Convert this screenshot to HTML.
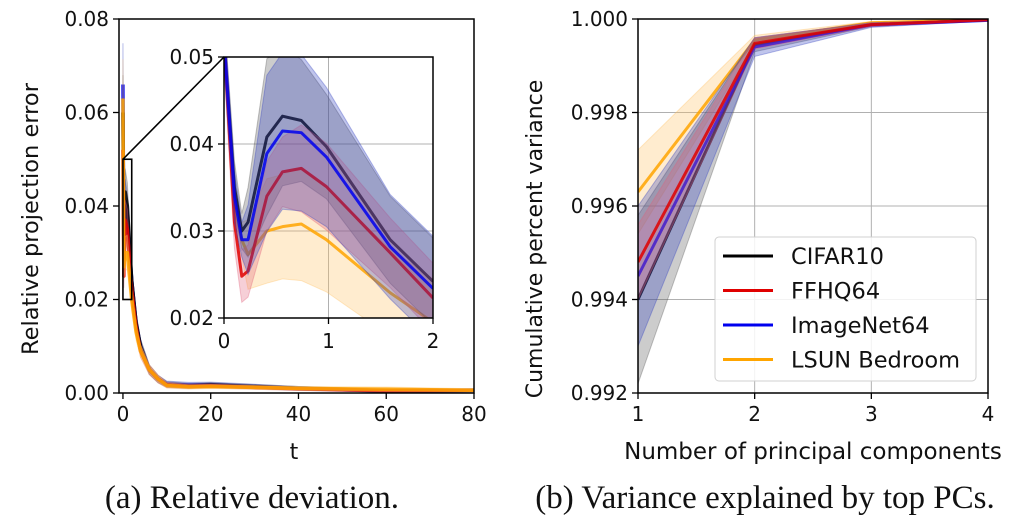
<!DOCTYPE html>
<html><head><meta charset="utf-8"><style>
body{margin:0;background:#fff;width:1032px;height:528px;overflow:hidden}
svg{display:block}
text{font-family:"DejaVu Sans","Liberation Sans",sans-serif;fill:#111}
.cap{font-family:"Liberation Serif",serif;font-size:33px}
</style></head><body>
<svg id="fig" width="1032" height="528" viewBox="0 0 1032 528" xmlns="http://www.w3.org/2000/svg"></svg>
<script>
// ---------- data ----------
const seriesNames = ["CIFAR10","FFHQ64","ImageNet64","LSUN Bedroom"];
const seriesColors = ["#000000","#e00000","#0000ee","#ffa500"];
const bandColors = ["#555555","#e0607a","#3040c0","#ffc060"];
// main left plot
const mainT = [0,0.2,0.5,1,2,3,4,6,8,10,15,20,40,60,80];
const mainCifar = [0.060,0.030,0.043,0.040,0.024,0.015,0.010,0.005,0.003,0.0018,0.0015,0.0017,0.0010,0.0005,0.0006];
const mainFfhq = [0.052,0.025,0.037,0.035,0.022,0.014,0.009,0.005,0.003,0.0017,0.0014,0.0015,0.0009,0.0005,0.0006];
const mainImnet = [0.066,0.029,0.041,0.038,0.024,0.015,0.010,0.005,0.003,0.0019,0.0017,0.0018,0.0010,0.0004,0.0006];
const mainLsun = [0.063,0.027,0.030,0.030,0.020,0.013,0.009,0.005,0.003,0.0016,0.0013,0.0014,0.0010,0.0008,0.0006];
const mainStd = [0.008,0.003,0.005,0.005,0.003,0.002,0.0015,0.001,0.0008,0.0006,0.0005,0.0005,0.0004,0.0003,0.0003];
// inset
const insetT = [0,0.1,0.17,0.23,0.41,0.56,0.74,0.98,1.59,2];
const insetCifar = [0.052,0.035,0.030,0.031,0.0408,0.0432,0.0427,0.0397,0.029,0.0242];
const insetFfhq = [0.052,0.031,0.0248,0.0254,0.034,0.0368,0.0372,0.0351,0.0275,0.0223];
const insetImnet = [0.052,0.034,0.029,0.029,0.0389,0.0415,0.0413,0.0385,0.0282,0.0234];
const insetLsun = [0.052,0.033,0.029,0.0273,0.030,0.0305,0.0308,0.029,0.0229,0.0195];
const insetStdCifar = [0.003,0.003,0.002,0.004,0.009,0.008,0.007,0.006,0.005,0.005];
const insetStdFfhq = [0.003,0.003,0.003,0.003,0.004,0.004,0.005,0.005,0.004,0.004];
const insetStdImnet = [0.003,0.003,0.002,0.004,0.009,0.009,0.009,0.008,0.006,0.006];
const insetStdLsun = [0.003,0.003,0.002,0.004,0.006,0.006,0.0065,0.006,0.005,0.005];
// right plot
const pcX = [1,2,3,4];
const pcCifar = [0.9940,0.99945,0.99988,0.99998];
const pcFfhq = [0.9948,0.99948,0.99988,0.99998];
const pcImnet = [0.9945,0.99940,0.99987,0.99997];
const pcLsun = [0.9963,0.99955,0.99992,0.99999];
const pcStdCifar = [0.0018,0.00015,0.00004,0.00001];
const pcStdFfhq = [0.0008,0.00012,0.00004,0.00001];
const pcStdImnet = [0.0015,0.00020,0.00005,0.00001];
const pcStdLsun = [0.0009,0.00010,0.00003,0.00001];
const leftXTicks = [0,20,40,60,80];
const leftYTicks = [0,0.02,0.04,0.06,0.08];
const insetXTicks = [0,1,2];
const insetYTicks = [0.02,0.03,0.04,0.05];
const rightXTicks = [1,2,3,4];
const rightYTicks = [0.992,0.994,0.996,0.998,1.000];

const NS="http://www.w3.org/2000/svg";
const svg=document.getElementById('fig');
function el(tag,attrs,parent){const e=document.createElementNS(NS,tag);for(const k in attrs)e.setAttribute(k,attrs[k]);(parent||svg).appendChild(e);return e;}
function lin(d0,d1,r0,r1){return v=>r0+(v-d0)/(d1-d0)*(r1-r0);}

function drawSeries(g,xs,ys,sd,sx,sy,i,lw){
  let up=xs.map((x,k)=>sx(x)+','+sy(ys[k]+sd[k]));
  let dn=xs.map((x,k)=>sx(x)+','+sy(ys[k]-sd[k])).reverse();
  const band=el('polygon',{points:up.concat(dn).join(' '),fill:bandColors[i],'fill-opacity':0.3,stroke:bandColors[i],'stroke-opacity':0.35},g);
  
  
  const line=el('polyline',{points:xs.map((x,k)=>sx(x)+','+sy(ys[k])).join(' '),fill:'none',stroke:seriesColors[i],'stroke-width':lw,'stroke-opacity':0.85,'stroke-linejoin':'round'},g);
  
  
}

// ---------- left plot ----------
const L={x0:119,x1:474,y0:19,y1:393};
const lx=lin(-0.9,80,L.x0,L.x1), ly=lin(0,0.08,L.y1,L.y0);
const gL=el('g',{});


const defs=el('defs',{});
el('rect',{x:L.x0,y:L.y0,width:L.x1-L.x0,height:L.y1-L.y0},el('clipPath',{id:'cl'},defs));
const gLc=el('g',{'clip-path':'url(#cl)'},gL);
const mains=[mainCifar,mainFfhq,mainImnet,mainLsun];
[2,0,1,3].forEach(i=>drawSeries(gLc,mainT,mains[i],mainT.map((t,k)=>mainStd[k]*mains[i][k]/mainCifar[k]),lx,ly,i,3.5));
el('rect',{x:L.x0,y:L.y0,width:L.x1-L.x0,height:L.y1-L.y0,fill:'none',stroke:'#000','stroke-width':1.5},gL);
leftXTicks.forEach(v=>{el('line',{x1:lx(v),x2:lx(v),y1:L.y1,y2:L.y1+6,stroke:'#000','stroke-width':1.3},gL);
  const t=el('text',{x:lx(v),y:L.y1+28,'text-anchor':'middle','font-size':20},gL);t.textContent=v;
  });
leftYTicks.forEach(v=>{el('line',{x1:L.x0-6,x2:L.x0,y1:ly(v),y2:ly(v),stroke:'#000','stroke-width':1.3},gL);
  const t=el('text',{x:L.x0-10,y:ly(v)+7,'text-anchor':'end','font-size':20},gL);t.textContent=v.toFixed(2);
  });
let t1=el('text',{x:294,y:459,'text-anchor':'middle','font-size':22},gL);t1.textContent='t';

let t2=el('text',{x:0,y:0,'text-anchor':'middle','font-size':22.5,transform:'translate(38,219) rotate(-90)'},gL);t2.textContent='Relative projection error';

// zoom indicator
const zr=el('rect',{x:lx(0),y:ly(0.05),width:lx(2)-lx(0),height:ly(0.02)-ly(0.05),fill:'none',stroke:'#000','stroke-width':1.6},gL);

// inset
const I={x0:224,x1:433,y0:57,y1:318};
el('line',{x1:lx(0),y1:ly(0.05),x2:I.x0,y2:I.y0,stroke:'#000','stroke-width':1.6},gL);
const ix=lin(0,2,I.x0,I.x1), iy=lin(0.02,0.05,I.y1,I.y0);
const gI=el('g',{},gL);

el('rect',{x:I.x0,y:I.y0,width:I.x1-I.x0,height:I.y1-I.y0,fill:'#fff'},gI);
el('rect',{x:I.x0,y:I.y0,width:I.x1-I.x0,height:I.y1-I.y0},el('clipPath',{id:'ci'},defs));
insetXTicks.forEach(v=>el('line',{x1:ix(v),x2:ix(v),y1:I.y0,y2:I.y1,stroke:'#b0b0b0','stroke-width':1},gI));
insetYTicks.forEach(v=>el('line',{x1:I.x0,x2:I.x1,y1:iy(v),y2:iy(v),stroke:'#b0b0b0','stroke-width':1},gI));
const gIc=el('g',{'clip-path':'url(#ci)'},gI);
const ins=[insetCifar,insetFfhq,insetImnet,insetLsun], isd=[insetStdCifar,insetStdFfhq,insetStdImnet,insetStdLsun];
[3,0,1,2].forEach(i=>drawSeries(gIc,insetT,ins[i],isd[i],ix,iy,i,3));
el('rect',{x:I.x0,y:I.y0,width:I.x1-I.x0,height:I.y1-I.y0,fill:'none',stroke:'#000','stroke-width':1.5},gI);
insetXTicks.forEach(v=>{el('line',{x1:ix(v),x2:ix(v),y1:I.y1,y2:I.y1+6,stroke:'#000','stroke-width':1.3},gI);
  const t=el('text',{x:ix(v),y:I.y1+30,'text-anchor':'middle','font-size':20},gI);t.textContent=v;
  });
insetYTicks.forEach(v=>{el('line',{x1:I.x0-6,x2:I.x0,y1:iy(v),y2:iy(v),stroke:'#000','stroke-width':1.3},gI);
  const t=el('text',{x:I.x0-10,y:iy(v)+7,'text-anchor':'end','font-size':20},gI);t.textContent=v.toFixed(2);
  });

// ---------- right plot ----------
const R={x0:638,x1:988,y0:19,y1:393};
const rx=lin(1,4,R.x0,R.x1), ry=lin(0.992,1.0,R.y1,R.y0);
const gR=el('g',{});

el('rect',{x:R.x0,y:R.y0,width:R.x1-R.x0,height:R.y1-R.y0},el('clipPath',{id:'cr'},defs));
rightXTicks.forEach(v=>el('line',{x1:rx(v),x2:rx(v),y1:R.y0,y2:R.y1,stroke:'#b0b0b0','stroke-width':1},gR));
rightYTicks.forEach(v=>el('line',{x1:R.x0,x2:R.x1,y1:ry(v),y2:ry(v),stroke:'#b0b0b0','stroke-width':1},gR));
const gRc=el('g',{'clip-path':'url(#cr)'},gR);
const pcs=[pcCifar,pcFfhq,pcImnet,pcLsun], psd=[pcStdCifar,pcStdFfhq,pcStdImnet,pcStdLsun];
[3,0,2,1].forEach(i=>drawSeries(gRc,pcX,pcs[i],psd[i],rx,ry,i,3));
el('rect',{x:R.x0,y:R.y0,width:R.x1-R.x0,height:R.y1-R.y0,fill:'none',stroke:'#000','stroke-width':1.5},gR);
rightXTicks.forEach(v=>{el('line',{x1:rx(v),x2:rx(v),y1:R.y1,y2:R.y1+6,stroke:'#000','stroke-width':1.3},gR);
  const t=el('text',{x:rx(v),y:R.y1+28,'text-anchor':'middle','font-size':20},gR);t.textContent=v;
  });
rightYTicks.forEach(v=>{el('line',{x1:R.x0-6,x2:R.x0,y1:ry(v),y2:ry(v),stroke:'#000','stroke-width':1.3},gR);
  const t=el('text',{x:R.x0-10,y:ry(v)+7,'text-anchor':'end','font-size':20},gR);t.textContent=v.toFixed(3);
  });
let t3=el('text',{x:813,y:459,'text-anchor':'middle','font-size':23},gR);t3.textContent='Number of principal components';

let t4=el('text',{x:0,y:0,'text-anchor':'middle','font-size':22,transform:'translate(542,239) rotate(-90)'},gR);t4.textContent='Cumulative percent variance';

// legend
const gLeg=el('g',{},gR);

el('rect',{x:715,y:237,width:261,height:144,rx:4,fill:'#fff','fill-opacity':0.85,stroke:'#d0d0d0'},gLeg);
seriesNames.forEach((n,i)=>{const y=256+i*34.5;
  el('line',{x1:723,x2:773,y1:y,y2:y,stroke:seriesColors[i],'stroke-width':3},gLeg);
  const t=el('text',{x:791,y:y+8,'font-size':22.5},gLeg);t.textContent=n;
  });

// captions
let c1=el('text',{x:252,y:508,'text-anchor':'middle',class:'cap'});c1.textContent='(a) Relative deviation.';

let c2=el('text',{x:765,y:508,'text-anchor':'middle',class:'cap'});c2.textContent='(b) Variance explained by top PCs.';

</script>
</body></html>
